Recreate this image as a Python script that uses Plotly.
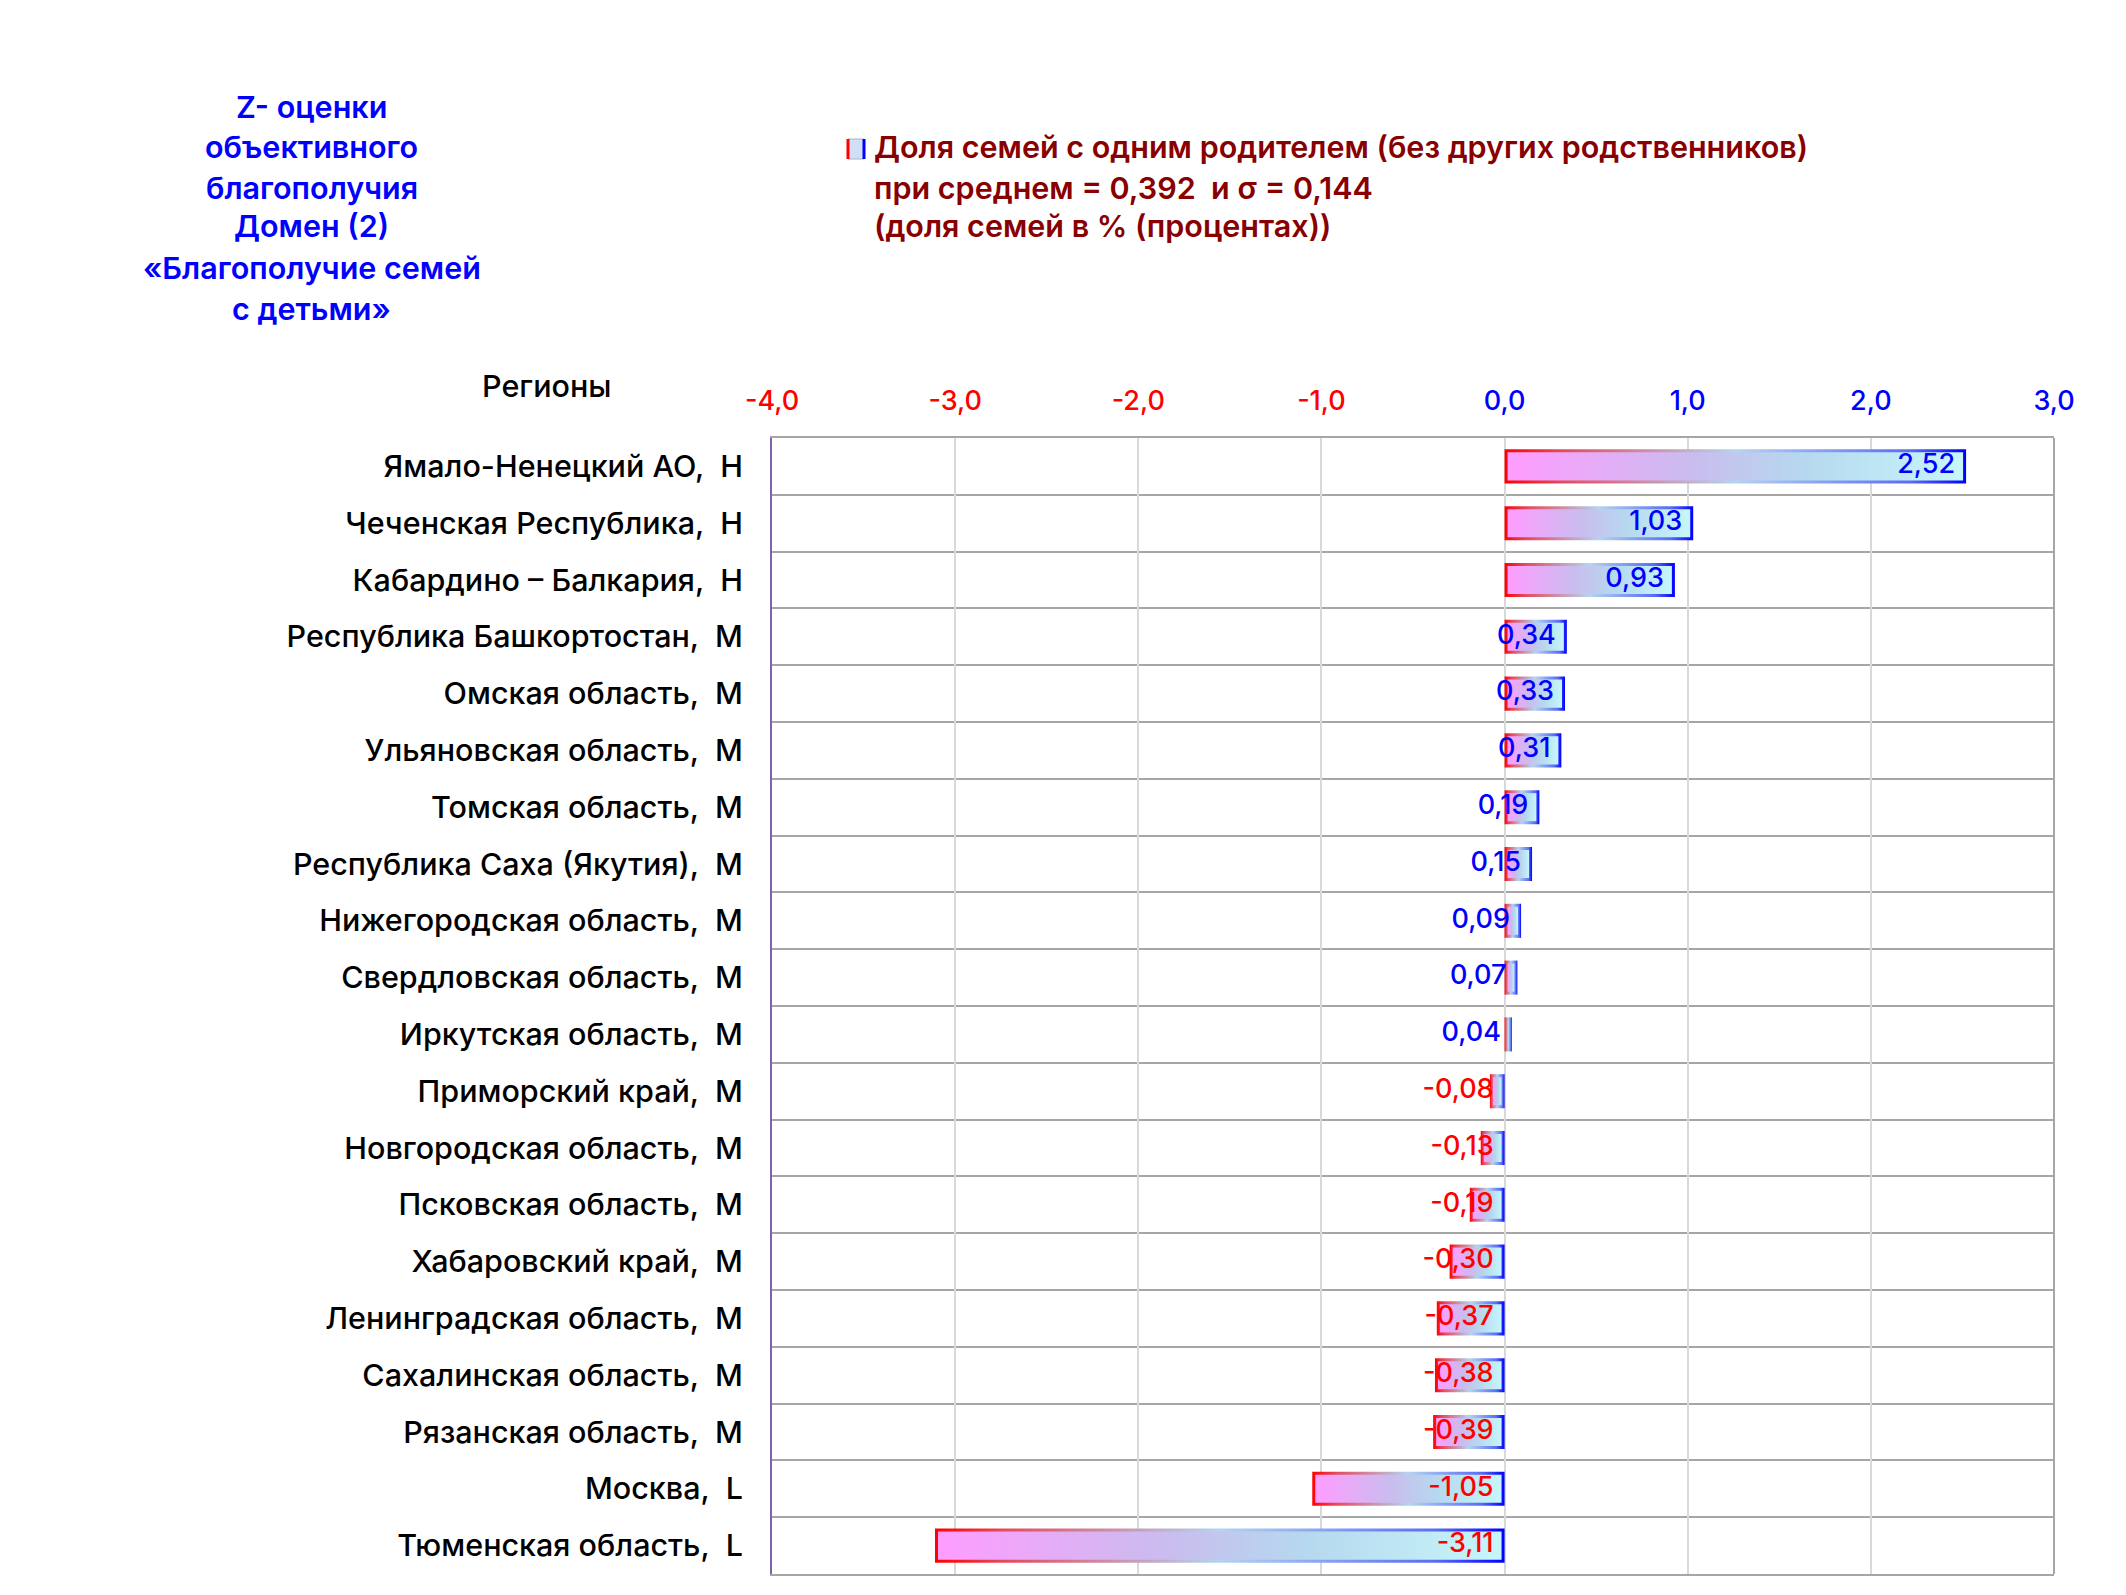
import plotly.graph_objects as go

categories = [
    "Ямало-Ненецкий АО, \u00a0Н",
    "Чеченская Республика, \u00a0Н",
    "Кабардино – Балкария, \u00a0Н",
    "Республика Башкортостан, \u00a0М",
    "Омская область, \u00a0М",
    "Ульяновская область, \u00a0М",
    "Томская область, \u00a0М",
    "Республика Саха (Якутия), \u00a0М",
    "Нижегородская область, \u00a0М",
    "Свердловская область, \u00a0М",
    "Иркутская область, \u00a0М",
    "Приморский край, \u00a0М",
    "Новгородская область, \u00a0М",
    "Псковская область, \u00a0М",
    "Хабаровский край, \u00a0М",
    "Ленинградская область, \u00a0М",
    "Сахалинская область, \u00a0М",
    "Рязанская область, \u00a0М",
    "Москва, \u00a0L",
    "Тюменская область, \u00a0L",
]
values = [2.52, 1.03, 0.93, 0.34, 0.33, 0.31, 0.19, 0.15, 0.09, 0.07, 0.04,
          -0.08, -0.13, -0.19, -0.30, -0.37, -0.38, -0.39, -1.05, -3.11]
tick_vals = [-4, -3, -2, -1, 0, 1, 2, 3]
tick_labels = ["-4,0", "-3,0", "-2,0", "-1,0", "0,0", "1,0", "2,0", "3,0"]
title_lines = ["Z- оценки", "объективного", "благополучия", "Домен (2)",
               "«Благополучие семей", "с детьми»"]
legend_lines = ["Доля семей с одним родителем (без других родственников)",
                "при среднем = 0,392 \u00a0и σ = 0,144",
                "(доля семей в % (процентах))"]
axis_title = "Регионы"

W, H = 2126, 1595
OFF = 8  # page body margin
# target plot box in page pixels
PL, PR, PT, PB = 772, 2054, 438, 1574
L = PL - OFF
T = PT - OFF
R = W - (PR - OFF)
B = H - (PB - OFF)
plot_w = W - L - R
plot_h = H - T - B
xmin, xmax = -4, 3
n = len(categories)
px_x = plot_w / (xmax - xmin)
px_y = plot_h / n
bw = 0.6
border = 3
FONT = "Inter"
BLUE = "#0000ff"
RED = "#ff0000"


def px2paper(px, py):
    # page pixel -> paper coords
    fx, fy = px - OFF, py - OFF
    return (fx - L) / plot_w, (H - B - fy) / plot_h


border_scale = [[0, "#ff0000"], [0.12, "#e44a5c"], [0.5, "#b4d4f0"],
                [0.88, "#5a6cf4"], [1, "#0000ff"]]
fill_scale = [[0, "#ff9cff"], [0.4, "#cabcee"], [0.65, "#b6d8ee"], [1, "#c6f6fa"]]

fig = go.Figure()
for i, v in enumerate(values):
    x0, x1 = min(0, v), max(0, v)
    y0, y1 = i - bw / 2, i + bw / 2
    fig.add_trace(go.Scatter(
        x=[x0, x1, x1, x0, x0], y=[y0, y0, y1, y1, y0],
        mode="lines", line=dict(width=0), fill="toself",
        fillgradient=dict(type="horizontal", colorscale=border_scale),
        hoverinfo="skip", showlegend=False))
    dx, dy = border / px_x, border / px_y
    ix0, ix1 = x0 + dx, x1 - dx
    if ix1 - ix0 > 0.5 / px_x:
        fig.add_trace(go.Scatter(
            x=[ix0, ix1, ix1, ix0, ix0], y=[y0 + dy, y0 + dy, y1 - dy, y1 - dy, y0 + dy],
            mode="lines", line=dict(width=0), fill="toself",
            fillgradient=dict(type="horizontal", colorscale=fill_scale),
            hoverinfo="skip", showlegend=False))

label_x = [max(0, v) for v in values]
label_text = [("%.2f" % v).replace(".", ",") for v in values]
label_col = [BLUE if v >= 0 else RED for v in values]
fig.add_trace(go.Scatter(
    x=label_x, y=list(range(n)), mode="markers+text", text=label_text,
    textposition="middle left",
    textfont=dict(family=FONT, size=27, color=label_col, weight=500),
    marker=dict(size=16, opacity=0), hoverinfo="skip", showlegend=False))

tick_text = ['<span style="color:%s">%s</span>' % (RED if t < 0 else BLUE, s)
             for t, s in zip(tick_vals, tick_labels)]

fig.update_layout(
    width=W, height=H,
    margin=dict(l=L, r=R, t=T, b=B),
    paper_bgcolor="white", plot_bgcolor="white",
    font=dict(family=FONT, color="black"),
    xaxis=dict(side="top", range=[xmin, xmax], tickmode="array",
               tickvals=tick_vals, ticktext=tick_text,
               tickfont=dict(family=FONT, size=27, weight=500),
               showgrid=True, gridcolor="#d9d9d9", gridwidth=2, zeroline=False,
               showline=True, linecolor="#a6a6a6", linewidth=2, mirror=True,
               ticks="outside", ticklen=15, tickcolor="rgba(0,0,0,0)"),
    yaxis=dict(range=[n - 0.5, -0.5], tickmode="array",
               tickvals=list(range(n)), ticktext=categories,
               tickfont=dict(family=FONT, size=30.5, color="black", weight=500),
               showgrid=False, zeroline=False,
               showline=True, linecolor="#7f60b0", linewidth=2,
               ticks="outside", ticklen=21, tickcolor="rgba(0,0,0,0)",
               minor=dict(tickmode="array", tickvals=[k - 0.5 for k in range(n + 1)],
                          showgrid=True, gridcolor="#a6a6a6", gridwidth=2, ticks="")),
)

fig.add_shape(type="line", xref="paper", yref="paper", x0=1, x1=1, y0=0, y1=1,
              line=dict(color="#a6a6a6", width=2))

annotations = []
ty = [107, 147, 187, 226, 267, 308]
for s, py in zip(title_lines, ty):
    xp, yp = px2paper(312, py)
    annotations.append(dict(x=xp, y=yp, xref="paper", yref="paper", text=s,
                            showarrow=False, xanchor="center", yanchor="middle",
                            font=dict(family=FONT, size=30.5, color=BLUE, weight=600)))
ly = [146, 187, 226]
for s, py in zip(legend_lines, ly):
    xp, yp = px2paper(872, py)
    annotations.append(dict(x=xp, y=yp, xref="paper", yref="paper", text=s,
                            showarrow=False, xanchor="left", yanchor="middle",
                            font=dict(family=FONT, size=30.5, color="#880000", weight=600)))
xp, yp = px2paper(546, 386)
annotations.append(dict(x=xp, y=yp, xref="paper", yref="paper", text=axis_title,
                        showarrow=False, xanchor="center", yanchor="middle",
                        font=dict(family=FONT, size=30.5, color="black", weight=500)))
fig.update_layout(annotations=annotations)

# legend swatch
sx0, sy0 = px2paper(848, 139)
sx1, sy1 = px2paper(864, 159)
fig.add_shape(type="rect", xref="paper", yref="paper", x0=sx0, x1=sx1, y0=sy1, y1=sy0,
              fillcolor="#cfe0f6", line=dict(color="#b0b0c0", width=1))
fig.add_shape(type="line", xref="paper", yref="paper", x0=sx0, x1=sx0, y0=sy1, y1=sy0,
              line=dict(color=RED, width=3))
fig.add_shape(type="line", xref="paper", yref="paper", x0=sx1, x1=sx1, y0=sy1, y1=sy0,
              line=dict(color=BLUE, width=3))

fig.write_html("out.html")
